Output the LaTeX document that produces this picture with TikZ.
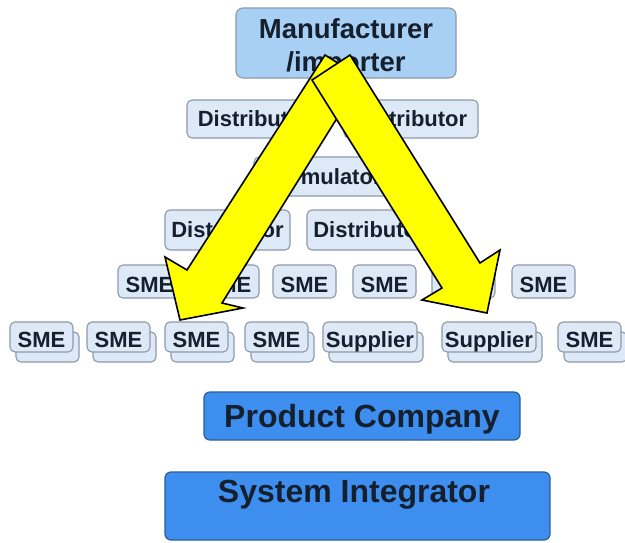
\documentclass[tikz,border=0pt]{standalone}
\usepackage{fontspec}
\setmainfont{Liberation Sans}
\definecolor{boxfill}{HTML}{DDE9F6}
\definecolor{boxedge}{HTML}{8C9AA8}
\definecolor{manfill}{HTML}{A8CFF4}
\definecolor{darkfill}{HTML}{3D8EEF}
\definecolor{darkedge}{HTML}{2B5E99}
\definecolor{txt}{HTML}{15202E}
\definecolor{arrowfill}{HTML}{FFFF00}
\begin{document}
\begin{tikzpicture}[x=1pt,y=-1pt,
  lite/.style={draw=boxedge, fill=boxfill, rounded corners=5pt, line width=1.1pt, inner sep=0pt, text=txt,
    font=\fontsize{22}{26}\selectfont\bfseries},
  smebox/.style={lite, minimum width=63pt, minimum height=33pt, text height=21pt, text depth=0pt},
  smefront/.style={lite, minimum width=63pt, minimum height=30pt, text height=21pt, text depth=0pt},
  supfront/.style={lite, minimum width=94pt, minimum height=30pt, text height=21pt, text depth=0pt},
  backbox/.style={draw=boxedge, fill=boxfill, rounded corners=5pt, line width=1.1pt, inner sep=0pt},
  darkbox/.style={draw=darkedge, fill=darkfill, rounded corners=6pt, line width=1.2pt, inner sep=0pt, text=txt},
  bigtext/.style={text=txt, inner sep=0pt, anchor=base},
  bigarrow/.style={draw=black, fill=arrowfill, line width=1.6pt, line join=miter}
]
\fill[white] (0,0) rectangle (625,542);
\useasboundingbox (0,0) rectangle (625,542);

% Manufacturer
\node[lite, fill=manfill, rounded corners=7pt, minimum width=220pt, minimum height=70pt] (man) at (346,43) {};
\node[bigtext, font=\fontsize{27.5}{32}\selectfont\bfseries] (man1) at (346,38) {Manufacturer};
\node[bigtext, font=\fontsize{27.5}{32}\selectfont\bfseries] (man2) at (346,71) {/importer};

% Distributors row 1
\node[lite, minimum width=134pt, minimum height=38pt] (d1l) at (254,119) {Distributor};
\node[lite, minimum width=134pt, minimum height=38pt] (d1r) at (411,119) {Distributor};

% Formulator
\node[lite, minimum width=139pt, minimum height=39pt] (form) at (323.5,176.5) {Formulator};

% Distributors row 2
\node[lite, minimum width=125pt, minimum height=40pt] (d2l) at (227.5,230) {Distributor};
\node[lite, minimum width=125pt, minimum height=40pt] (d2r) at (369.5,230) {Distributor};

% SME row 1
\node[smebox] (ra) at (149.5,281.5) {SME};
\node[smebox] (rb) at (227.5,281.5) {SME};
\node[smebox] (rc) at (304.5,281.5) {SME};
\node[smebox] (rd) at (384.5,281.5) {SME};
\node[smebox] (re) at (463.5,281.5) {SME};
\node[smebox] (rf) at (543.5,281.5) {SME};

% Row 2 back boxes
\foreach \n/\cx/\w in {a/41.5/63, b/118.5/63, c/196.5/63, d/276.5/63, e/370/94, f/489/94, g/589.5/63}{
  \node[backbox, minimum width=\w pt, minimum height=30pt] (b\n) at (\cx+6,347) {};
}
% Row 2 front boxes
\node[smefront] (sa) at (41.5,337) {SME};
\node[smefront] (sb) at (118.5,337) {SME};
\node[smefront] (sc) at (196.5,337) {SME};
\node[smefront] (sd) at (276.5,337) {SME};
\node[supfront] (se) at (370,337) {Supplier};
\node[supfront] (sf) at (489,337) {Supplier};
\node[smefront] (sg) at (589.5,337) {SME};

% Product Company
\node[darkbox, minimum width=316pt, minimum height=48pt, text height=22pt, text depth=0pt,
  font=\fontsize{32}{36}\selectfont\bfseries] (pc) at (362,416) {Product Company};

% System Integrator
\node[darkbox, minimum width=385pt, minimum height=68pt] (si) at (357.5,506) {};
\node[bigtext, font=\fontsize{32}{36}\selectfont\bfseries] (sit) at (354,502) {System Integrator};

% Arrows
\draw[bigarrow] (325,55) -- (362,78) -- (222,303) -- (243,308) -- (180,320) -- (165,257) -- (187,270) -- cycle;
\draw[bigarrow] (350,55) -- (480,263) -- (500,250) -- (487,313) -- (422,300) -- (442,288) -- (312,80) -- cycle;
\end{tikzpicture}
\end{document}
